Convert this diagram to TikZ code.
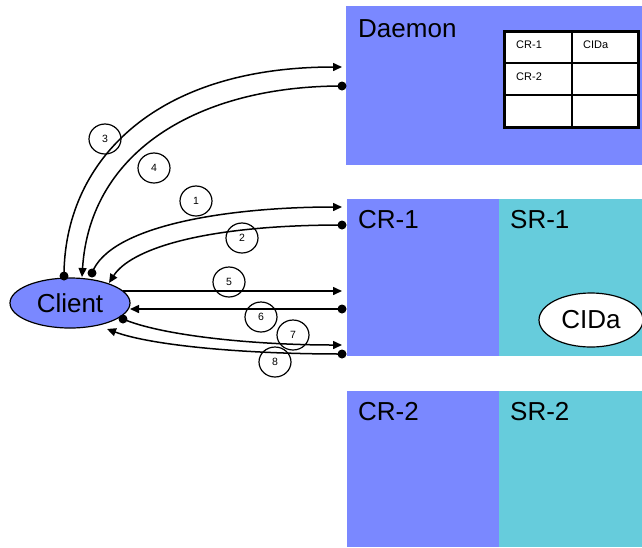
\documentclass[tikz,border=0pt]{standalone}
\usepackage{fontspec}
\setmainfont{Liberation Sans}
\usetikzlibrary{arrows.meta,shapes.geometric}
\definecolor{rblue}{RGB}{122,136,255}
\definecolor{rcyan}{RGB}{102,204,220}
\begin{document}
\begin{tikzpicture}[x=1pt,y=-1pt,
  blk/.style={fill=rblue,draw=none,inner sep=0pt,anchor=north west},
  sblk/.style={fill=rcyan,draw=none,inner sep=0pt,anchor=north west},
  lbl/.style={font=\fontsize{26}{30}\selectfont,anchor=base west,inner sep=0pt},
  tlbl/.style={font=\fontsize{11}{13}\selectfont,anchor=base west,inner sep=0pt},
  num/.style={draw,ellipse,line width=1.2pt,minimum width=32pt,minimum height=30pt,inner sep=0pt,font=\fontsize{10.5}{12}\selectfont},
  arr/.style={line width=1.5pt,-{Triangle[length=9pt,width=8pt]}},
  dot/.style={fill=black}]
\useasboundingbox (0,0) rectangle (642,547);
% blocks
\node[blk,minimum width=296pt,minimum height=159pt] (daemon) at (346,6) {};
\node[blk,minimum width=152pt,minimum height=157pt] (cr1) at (347,199) {};
\node[sblk,minimum width=143pt,minimum height=157pt] (sr1) at (499,199) {};
\node[blk,minimum width=152pt,minimum height=156pt] (cr2) at (347,391) {};
\node[sblk,minimum width=143pt,minimum height=156pt] (sr2) at (499,391) {};
\node[lbl] (daemonlbl) at (358,37) {Daemon};
\node[lbl] (cr1lbl) at (358,228) {CR-1};
\node[lbl] (sr1lbl) at (510,228) {SR-1};
\node[lbl] (cr2lbl) at (358,420) {CR-2};
\node[lbl] (sr2lbl) at (510,420) {SR-2};
% table
\fill[white] (504,31) rectangle (638,127);
\draw[line width=1.3pt] (572,31) -- (572,127) (504,63) -- (638,63) (504,95) -- (638,95);
\draw[line width=3pt] (504,31) rectangle (638,127);
\node[tlbl] (t11) at (516,48) {CR-1};
\node[tlbl] (t12) at (583,48) {CIDa};
\node[tlbl] (t21) at (516,80) {CR-2};
% CIDa
\node[draw,ellipse,fill=white,line width=1.2pt,minimum width=104pt,minimum height=54pt,inner sep=0pt,font=\fontsize{26}{30}\selectfont] (cida) at (591,320) {CIDa};
% client
\node[draw,ellipse,fill=rblue,line width=1.2pt,minimum width=120pt,minimum height=50pt,inner sep=0pt,font=\fontsize{26}{30}\selectfont] (client) at (70,303) {Client};
% endpoints
\coordinate (c3) at (64,276); \coordinate (d3) at (342,67);
\coordinate (d4) at (342,86); \coordinate (c4) at (82,277);
\coordinate (c1) at (92,273); \coordinate (s1) at (342,207);
\coordinate (s2) at (342,225); \coordinate (c2) at (109,283);
\coordinate (c5) at (123,291); \coordinate (s5) at (342,291);
\coordinate (s6) at (342,309); \coordinate (c6) at (130,309);
\coordinate (c7) at (123,319); \coordinate (s7) at (342,345);
\coordinate (s8) at (342,354); \coordinate (c8) at (107,329);
% connectors
\draw[arr] (c3) .. controls (64,165) and (150,67) .. (d3);
\draw[arr] (d4) .. controls (200,86) and (90,150) .. (c4);
\draw[arr] (c1) .. controls (110,225) and (230,207) .. (s1);
\draw[arr] (s2) .. controls (200,225) and (130,250) .. (c2);
\draw[arr] (c5) -- (s5);
\draw[arr] (s6) -- (c6);
\draw[arr] (c7) .. controls (160,335) and (250,345) .. (s7);
\draw[arr] (s8) .. controls (240,354) and (150,345) .. (c8);
\foreach \p in {c3,d4,c1,s2,s6,c7,s8} \fill[dot] (\p) circle (4.5pt);
% numbers
\node[num] (n1) at (196,201) {1};
\node[num] (n2) at (242,238) {2};
\node[num] (n3) at (105,139) {3};
\node[num] (n4) at (154,168) {4};
\node[num] (n5) at (229,282) {5};
\node[num] (n6) at (261,317) {6};
\node[num] (n7) at (293,335) {7};
\node[num] (n8) at (275,362) {8};
\end{tikzpicture}
\end{document}
